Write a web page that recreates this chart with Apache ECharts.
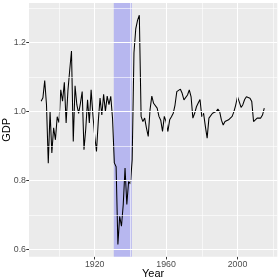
<!DOCTYPE html>
<html><head><meta charset="utf-8">
<script src="https://cdn.jsdelivr.net/npm/echarts@6/dist/echarts.min.js"></script>
<style>html,body{margin:0;padding:0;background:#fff}#c{width:280px;height:280px}</style>
</head><body><div id="c"></div>
<script>
const years = [1890,1891,1892,1893,1894,1895,1896,1897,1898,1899,
1900,1901,1902,1903,1904,1905,1906,1907,1908,1909,
1910,1911,1912,1913,1914,1915,1916,1917,1918,1919,
1920,1921,1922,1923,1924,1925,1926,1927,1928,1929,
1930,1931,1932,1933,1934,1935,1936,1937,1938,1939,
1940,1941,1942,1943,1944,1945,1946,1947,1948,1949,
1950,1951,1952,1953,1954,1955,1956,1957,1958,1959,
1960,1961,1962,1963,1964,1965,1966,1967,1968,1969,
1970,1971,1972,1973,1974,1975,1976,1977,1978,1979,
1980,1981,1982,1983,1984,1985,1986,1987,1988,1989,
1990,1991,1992,1993,1994,1995,1996,1997,1998,1999,
2000,2001,2002,2003,2004,2005,2006,2007,2008,2009,
2010,2011,2012,2013,2014,2015];
const gdp = [1.03,1.04,1.09,1.02,0.85,1.00,0.88,0.953,0.918,0.985,
0.968,1.063,1.03,1.085,0.967,1.06,1.12,1.176,0.913,1.075,
1.02,0.995,1.024,1.058,0.889,0.95,1.034,0.967,1.063,0.99,
0.93,0.884,0.97,1.039,0.99,1.05,1.00,1.045,1.02,1.044,
0.98,0.851,0.84,0.614,0.696,0.667,0.73,0.836,0.73,0.797,
0.79,0.86,1.17,1.24,1.265,1.28,0.986,0.971,0.981,0.952,
0.928,1.005,1.045,1.024,1.029,1.01,0.986,0.975,0.942,0.986,
0.971,0.942,0.976,0.985,0.995,1.019,1.058,1.053,1.065,1.053,
1.034,1.039,1.048,1.063,1.043,0.981,0.995,1.014,1.025,1.035,
0.985,0.995,0.957,0.923,0.981,0.986,0.995,0.99,1.0,1.007,
1.0,0.975,0.961,0.971,0.966,0.976,0.971,0.986,1.0,1.019,
1.043,1.028,1.012,1.02,1.035,1.043,1.048,1.039,1.029,0.971,
0.976,0.981,0.976,0.981,0.99,1.01];
const shadeStart = 1930.7, shadeEnd = 1940.8;
const xTickValues = [1920, 1960, 2000];
const xMinorGrid = [1900, 1940, 1980, 2020];
const yTickValues = [0.6, 0.8, 1.0, 1.2];
const yMinorGrid = [0.7, 0.9, 1.1, 1.3];

const FONT = 'Liberation Sans';
const chart = echarts.init(document.getElementById('c'), null, {renderer: 'canvas'});

const gridLines = [];
xMinorGrid.forEach(v => gridLines.push({xAxis: v, lineStyle: {color: '#fff', width: 0.6, type: 'solid'}}));
yMinorGrid.forEach(v => gridLines.push({yAxis: v, lineStyle: {color: '#fff', width: 0.6, type: 'solid'}}));
xTickValues.forEach(v => gridLines.push({xAxis: v, lineStyle: {color: '#fff', width: 1.1, type: 'solid'}}));
yTickValues.forEach(v => gridLines.push({yAxis: v, lineStyle: {color: '#fff', width: 1.1, type: 'solid'}}));

chart.setOption({
  animation: false,
  grid: {left: 29, right: 2.7, top: 3, bottom: 23.3, containLabel: false, outerBoundsMode: 'none',
         show: true, backgroundColor: '#EBEBEB', borderWidth: 0},
  xAxis: {
    type: 'value', min: 1883.2, max: 2022.3,
    splitLine: {show: false}, axisLine: {show: false},
    axisTick: {show: true, length: 2.75, lineStyle: {color: '#333333', width: 1}, customValues: xTickValues},
    axisLabel: {customValues: xTickValues, color: '#4D4D4D', fontSize: 8.8, fontFamily: FONT, margin: 3,
                formatter: v => String(v)},
    name: 'Year', nameLocation: 'middle', nameGap: 12, nameMoveOverlap: false,
    nameTextStyle: {color: '#000', fontSize: 11, fontFamily: FONT}
  },
  yAxis: {
    type: 'value', min: 0.5785, max: 1.3153,
    splitLine: {show: false}, axisLine: {show: false},
    axisTick: {show: true, length: 2.75, lineStyle: {color: '#333333', width: 1}, customValues: yTickValues},
    axisLabel: {customValues: yTickValues, color: '#4D4D4D', fontSize: 8.8, fontFamily: FONT, margin: 3,
                formatter: v => v.toFixed(1)},
    name: 'GDP', nameLocation: 'middle', nameGap: 17, nameRotate: 90, nameMoveOverlap: false,
    nameTextStyle: {color: '#000', fontSize: 11, fontFamily: FONT}
  },
  series: [
    {type: 'line', data: [], z: 1, silent: true,
     markLine: {silent: true, symbol: ['none', 'none'], animation: false, label: {show: false},
                emphasis: {disabled: true}, data: gridLines}},
    {type: 'line', data: years.map((y, i) => [y, gdp[i]]), z: 2, showSymbol: false, silent: true,
     lineStyle: {color: '#000', width: 1.05}},
    {type: 'line', data: [], z: 3, silent: true,
     markArea: {silent: true, itemStyle: {color: 'rgba(0,0,255,0.22)'}, emphasis: {disabled: true},
                data: [[{xAxis: shadeStart}, {xAxis: shadeEnd}]]}}
  ]
});
</script></body></html>
